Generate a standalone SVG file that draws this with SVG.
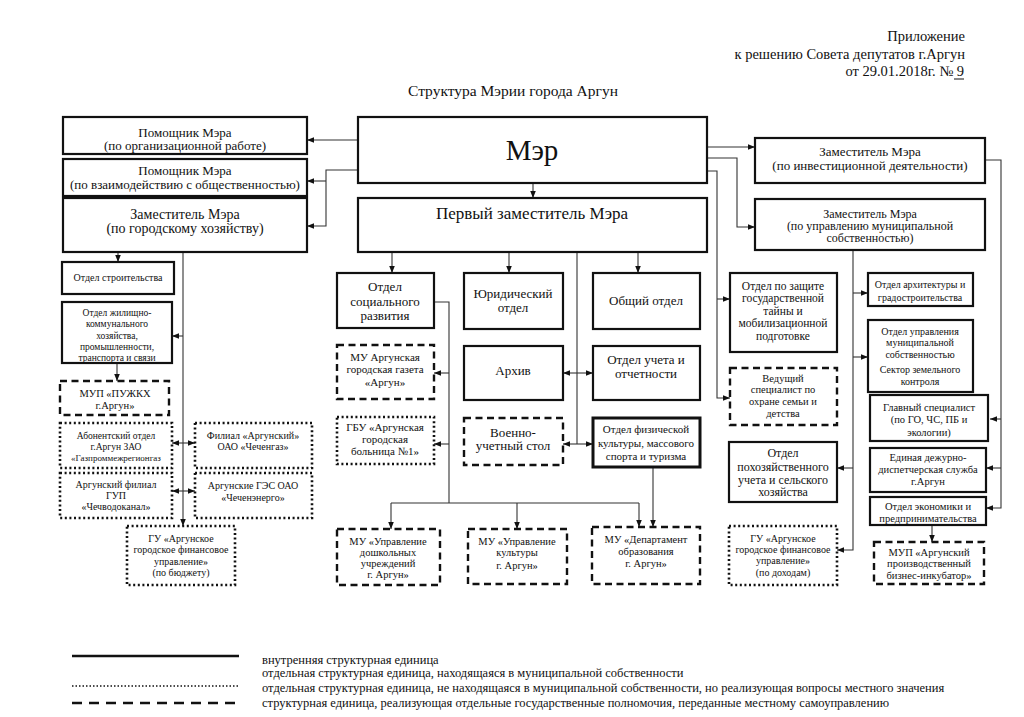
<svg xmlns="http://www.w3.org/2000/svg" width="1024" height="717" viewBox="0 0 1024 717" font-family="Liberation Serif, DejaVu Serif, serif">
<style>
.bx{fill:#fff;stroke:#111;stroke-width:2.2}
.thick{stroke-width:3}
.dash{stroke-dasharray:7 4.5;stroke-width:2.4}
.dot{stroke-dasharray:2 2.6;stroke-width:2.6}
text{font-family:Liberation Serif,DejaVu Serif,serif}
.t{fill:#111;text-anchor:middle}
.s9{font-size:9px}.s95{font-size:9.5px}.s10{font-size:10px}.s105{font-size:10.5px}.s11{font-size:11px}.s115{font-size:11.5px}.s12{font-size:12px}.s13{font-size:13px}.s14{font-size:14px}
.c{fill:none;stroke:#333;stroke-width:1.1}
.ae{marker-end:url(#ah)}
.ab{marker-start:url(#ah);marker-end:url(#ah)}
.hd{fill:#111}
</style>
<defs>
<marker id="ah" viewBox="0 0 10 10" refX="10" refY="5" markerWidth="7" markerHeight="7" markerUnits="userSpaceOnUse" orient="auto-start-reverse"><path d="M0,1 L10,5 L0,9 z" fill="#111"/></marker>
</defs>
<rect width="1024" height="717" fill="#fff"/>

<g id="header" class="hd">
<text x="965" y="41" font-size="14.5" text-anchor="end">Приложение</text>
<text x="965" y="59" font-size="14.5" text-anchor="end">к решению Совета депутатов г.Аргун</text>
<text x="964" y="76" font-size="14.5" text-anchor="end">от  29.01.2018г. №  9</text>
<line x1="954" y1="79" x2="964" y2="79" stroke="#111" stroke-width="1"/>
<text x="513" y="96" font-size="15.5" text-anchor="middle">Структура Мэрии города Аргун</text>
</g>

<g id="connectors">
<path class="c ae" d="M358,140 H307"/>
<path class="c ae" d="M358,170 H326 V226 H307"/>
<path class="c ae" d="M326,181 H307"/>
<path class="c ae" d="M533,183 V198"/>
<path class="c ae" d="M707,147 H755"/>
<path class="c ae" d="M707,158 H737 V227 H755"/>
<path class="c ae" d="M707,171 H717 V398 H730"/>
<path class="c ae" d="M717,299 H730"/>
<path class="c ae" d="M985,160 H1001 V508 H986"/>
<path class="c ae" d="M1001,419 H990"/>
<path class="c ae" d="M1001,468 H986"/>
<path class="c ae" d="M853,250 V550 H837"/>
<path class="c ae" d="M853,293 H868"/>
<path class="c ae" d="M853,357 H868"/>
<path class="c ae" d="M853,468 H837"/>
<path class="c ae" d="M392,252 V273"/>
<path class="c ae" d="M509,252 V273"/>
<path class="c ae" d="M638,252 V273"/>
<path class="c" d="M577,252 V444"/>
<path class="c ab" d="M563,373 H593"/>
<path class="c ab" d="M563,444 H593"/>
<path class="c" d="M434,302 H449 V503"/>
<path class="c ae" d="M449,373 H434"/>
<path class="c ae" d="M449,444 H434"/>
<path class="c" d="M391,503 H639"/>
<path class="c ae" d="M391,503 V529"/>
<path class="c ae" d="M517,503 V529"/>
<path class="c ae" d="M639,503 V527"/>
<path class="c ae" d="M653,467 V527"/>
<path class="c ae" d="M118,252 V262"/>
<path class="c ae" d="M183,252 V526"/>
<path class="c ae" d="M183,336 H172"/>
<path class="c ab" d="M172,443 H195"/>
<path class="c ab" d="M172,491 H195"/>
<path class="c ae" d="M117,363 V381"/>
<path class="c ae" d="M932,525 V542"/>
</g>

<g id="n-pom-org"><rect class="bx" x="63" y="117" width="244" height="37"/>
<text class="t s13"><tspan x="185" y="137">Помощник Мэра</tspan><tspan x="185" y="150">(по организационной работе)</tspan></text></g>
<g id="n-pom-obsh"><rect class="bx" x="63" y="159" width="244" height="37"/>
<text class="t s13"><tspan x="185" y="175">Помощник Мэра</tspan><tspan x="185" y="189">(по взаимодействию с общественностью)</tspan></text></g>
<g id="n-zam-gor"><rect class="bx" x="63" y="198" width="244" height="54"/>
<text class="t s14"><tspan x="185" y="219">Заместитель Мэра</tspan><tspan x="185" y="233">(по городскому хозяйству)</tspan></text></g>

<g id="n-mayor"><rect class="bx" x="358" y="117" width="349" height="66" stroke-width="2.6"/>
<text class="t" font-size="29" x="532" y="160">Мэр</text></g>
<g id="n-first"><rect class="bx" x="358" y="198" width="349" height="54"/>
<text class="t" font-size="17" x="532" y="219">Первый заместитель Мэра</text></g>

<g id="n-zam-inv"><rect class="bx" x="755" y="138" width="230" height="45"/>
<text class="t s13"><tspan x="870" y="156">Заместитель Мэра</tspan><tspan x="870" y="170">(по инвестиционной деятельности)</tspan></text></g>
<g id="n-zam-mun"><rect class="bx" x="755" y="199" width="230" height="51"/>
<text class="t s12"><tspan x="870" y="218">Заместитель Мэра</tspan><tspan x="870" y="230">(по управлению муниципальной</tspan><tspan x="870" y="242">собственностью)</tspan></text></g>

<g id="n-stroit"><rect class="bx" x="62" y="262" width="112" height="32"/>
<text class="t s10" x="118" y="281">Отдел строительства</text></g>
<g id="n-zhkh"><rect class="bx" x="62" y="302" width="110" height="61"/>
<text class="t s95"><tspan x="117" y="315.5">Отдел жилищно-</tspan><tspan x="117" y="327">коммунального</tspan><tspan x="117" y="338.5">хозяйства,</tspan><tspan x="117" y="350">промышленности,</tspan><tspan x="117" y="361">транспорта и связи</tspan></text></g>
<g id="n-mup-puzhkh"><rect class="bx dash" x="60" y="381" width="109" height="34"/>
<text class="t s105"><tspan x="115" y="397">МУП «ПУЖКХ</tspan><tspan x="115" y="409">г.Аргун»</tspan></text></g>
<g id="n-abon"><rect class="bx dot" x="60" y="423" width="112" height="45"/>
<text class="t s95"><tspan x="116" y="438.5">Абонентский отдел</tspan><tspan x="116" y="449.5">г.Аргун ЗАО</tspan><tspan x="116" y="460.5" font-size="9">«Газпроммежрегионгаз</tspan></text></g>
<g id="n-filial"><rect class="bx dot" x="195" y="423" width="117" height="45"/>
<text class="t s10"><tspan x="253" y="438.5">Филиал «Аргунский»</tspan><tspan x="253" y="450">ОАО «Чеченгаз»</tspan></text></g>
<g id="n-vodokanal"><rect class="bx dot" x="60" y="473" width="112" height="45"/>
<text class="t s10"><tspan x="116" y="488">Аргунский филиал</tspan><tspan x="116" y="499">ГУП</tspan><tspan x="116" y="510">«Чечводоканал»</tspan></text></g>
<g id="n-ges"><rect class="bx dot" x="195" y="473" width="117" height="45"/>
<text class="t s10"><tspan x="253" y="488.5">Аргунские ГЭС ОАО</tspan><tspan x="253" y="501">«Чеченэнерго»</tspan></text></g>
<g id="n-gu-budget"><rect class="bx dot" x="127" y="526" width="108" height="59"/>
<text class="t s10"><tspan x="181" y="541.5">ГУ «Аргунское</tspan><tspan x="181" y="553">городское финансовое</tspan><tspan x="181" y="564.5">управление»</tspan><tspan x="181" y="576">(по бюджету)</tspan></text></g>

<g id="n-soc"><rect class="bx" x="337" y="273" width="97" height="55"/>
<text class="t s13"><tspan x="385" y="291">Отдел</tspan><tspan x="385" y="305.5">социального</tspan><tspan x="385" y="320">развития</tspan></text></g>
<g id="n-yur"><rect class="bx" x="464" y="273" width="99" height="56"/>
<text class="t s13"><tspan x="513" y="297.5">Юридический</tspan><tspan x="513" y="311.5">отдел</tspan></text></g>
<g id="n-obsh"><rect class="bx" x="593" y="273" width="107" height="56"/>
<text class="t s13" x="646" y="305">Общий отдел</text></g>
<g id="n-arhiv"><rect class="bx" x="464" y="346" width="99" height="54"/>
<text class="t s13" x="513" y="374.5">Архив</text></g>
<g id="n-uchet"><rect class="bx" x="593" y="346" width="107" height="54"/>
<text class="t s13"><tspan x="646" y="363.5">Отдел учета и</tspan><tspan x="646" y="377.5">отчетности</tspan></text></g>
<g id="n-voen"><rect class="bx dash" x="464" y="418" width="99" height="47"/>
<text class="t s13"><tspan x="513" y="436.5">Военно-</tspan><tspan x="513" y="449.5">учетный стол</tspan></text></g>
<g id="n-fizk"><rect class="bx thick" x="593" y="418" width="107" height="49"/>
<text class="t s11"><tspan x="646" y="433">Отдел физической</tspan><tspan x="646" y="446.5">культуры, массового</tspan><tspan x="646" y="460">спорта и туризма</tspan></text></g>
<g id="n-gazeta"><rect class="bx dash" x="337" y="345" width="97" height="54"/>
<text class="t s11"><tspan x="385" y="360.5">МУ Аргунская</tspan><tspan x="385" y="373">городская газета</tspan><tspan x="385" y="385.5">«Аргун»</tspan></text></g>
<g id="n-bolnica"><rect class="bx dot" x="337" y="417" width="97" height="47"/>
<text class="t s11"><tspan x="385" y="431">ГБУ «Аргунская</tspan><tspan x="385" y="442.5">городская</tspan><tspan x="385" y="455">больница №1»</tspan></text></g>

<g id="n-mu-dosh"><rect class="bx dash" x="337" y="529" width="103" height="56"/>
<text class="t s105"><tspan x="388" y="544.5">МУ «Управление</tspan><tspan x="388" y="555.5">дошкольных</tspan><tspan x="388" y="566.5">учреждений</tspan><tspan x="388" y="577.5">г. Аргун»</tspan></text></g>
<g id="n-mu-kult"><rect class="bx dash" x="468" y="529" width="99" height="55"/>
<text class="t s105"><tspan x="517" y="544.5">МУ «Управление</tspan><tspan x="517" y="556">культуры</tspan><tspan x="517" y="568.5">г. Аргун»</tspan></text></g>
<g id="n-mu-dep"><rect class="bx dash" x="592" y="527" width="108" height="57"/>
<text class="t s105"><tspan x="646" y="543">МУ «Департамент</tspan><tspan x="646" y="554.5">образования</tspan><tspan x="646" y="567">г. Аргун»</tspan></text></g>

<g id="n-tayna"><rect class="bx" x="730" y="273" width="107" height="79"/>
<text class="t s115"><tspan x="783" y="289.5">Отдел по защите</tspan><tspan x="783" y="302">государственной</tspan><tspan x="783" y="314.5">тайны и</tspan><tspan x="783" y="327">мобилизационной</tspan><tspan x="783" y="339.5">подготовке</tspan></text></g>
<g id="n-ved"><rect class="bx dash" x="730" y="368" width="107" height="57"/>
<text class="t s105"><tspan x="783" y="381.5">Ведущий</tspan><tspan x="783" y="393">специалист по</tspan><tspan x="783" y="405">охране семьи и</tspan><tspan x="783" y="416.5">детства</tspan></text></g>
<g id="n-pohoz"><rect class="bx" x="729" y="442" width="108" height="60"/>
<text class="t s12"><tspan x="783" y="457">Отдел</tspan><tspan x="783" y="470.5">похозяйственного</tspan><tspan x="783" y="484">учета и сельского</tspan><tspan x="783" y="496">хозяйства</tspan></text></g>
<g id="n-gu-doh"><rect class="bx dot" x="729" y="526" width="108" height="59"/>
<text class="t s10"><tspan x="783" y="541.5">ГУ «Аргунское</tspan><tspan x="783" y="552.5">городское финансовое</tspan><tspan x="783" y="564">управление»</tspan><tspan x="783" y="575.5">(по доходам)</tspan></text></g>

<g id="n-arh"><rect class="bx" x="868" y="273" width="105" height="33"/>
<text class="t s10"><tspan x="920" y="288">Отдел архитектуры и</tspan><tspan x="920" y="300.5">градостроительства</tspan></text></g>
<g id="n-upr-mun"><rect class="bx" x="868" y="320" width="105" height="72"/>
<text class="t s10"><tspan x="920" y="334.5">Отдел управления</tspan><tspan x="920" y="345.5">муниципальной</tspan><tspan x="920" y="357.5">собственностью</tspan><tspan x="920" y="372.5">Сектор земельного</tspan><tspan x="920" y="385">контроля</tspan></text></g>
<g id="n-glav"><rect class="bx" x="870" y="395" width="118" height="46"/>
<text class="t s105"><tspan x="929" y="410.5">Главный специалист</tspan><tspan x="929" y="422.5">(по ГО, ЧС, ПБ и</tspan><tspan x="929" y="435.5">экологии)</tspan></text></g>
<g id="n-edds"><rect class="bx" x="870" y="448" width="116" height="44"/>
<text class="t s105"><tspan x="928" y="460.5">Единая дежурно-</tspan><tspan x="928" y="472.5">диспетчерская служба</tspan><tspan x="928" y="484.5">г.Аргун</tspan></text></g>
<g id="n-ekon"><rect class="bx" x="870" y="497" width="116" height="28"/>
<text class="t s105"><tspan x="928" y="510">Отдел экономики и</tspan><tspan x="928" y="522">предпринимательства</tspan></text></g>
<g id="n-mup-biz"><rect class="bx dash" x="874" y="542" width="110" height="42"/>
<text class="t s105"><tspan x="929" y="555.5">МУП «Аргунский</tspan><tspan x="929" y="567">производственный</tspan><tspan x="929" y="578.5">бизнес-инкубатор»</tspan></text></g>

<g id="legend">
<line x1="72" y1="656" x2="239" y2="656" stroke="#111" stroke-width="2.4"/>
<line x1="72" y1="686" x2="239" y2="686" stroke="#111" stroke-width="1.4" stroke-dasharray="1.5 2"/>
<line x1="72" y1="703" x2="239" y2="703" stroke="#111" stroke-width="2.4" stroke-dasharray="10 7"/>
<text class="hd" font-size="12.5" x="262" y="664">внутренняя структурная единица</text>
<text class="hd" font-size="12.5" x="262" y="677">отдельная структурная единица, находящаяся в муниципальной собственности</text>
<text class="hd" font-size="12.5" x="262" y="692">отдельная структурная единица, не находящаяся в муниципальной собственности, но реализующая вопросы местного значения</text>
<text class="hd" font-size="12.5" x="262" y="707">структурная единица, реализующая отдельные государственные полномочия, переданные местному самоуправлению</text>
</g>
</svg>
